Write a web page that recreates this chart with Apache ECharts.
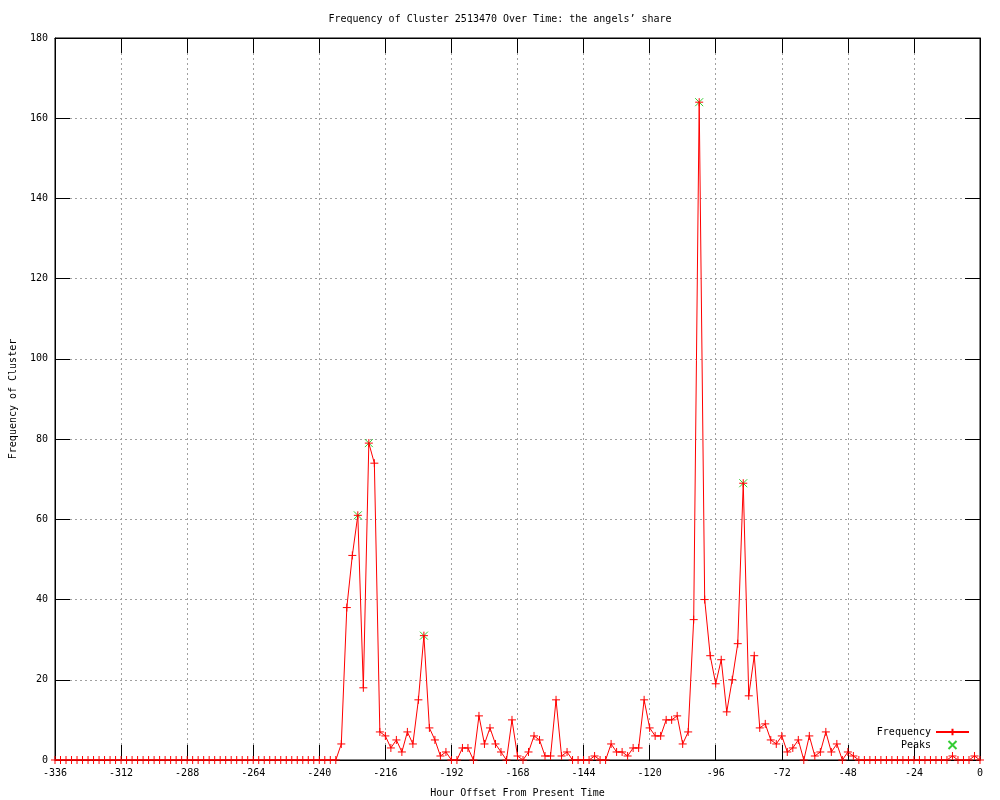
<!DOCTYPE html>
<html>
<head>
<meta charset="utf-8">
<script src="https://cdn.jsdelivr.net/npm/echarts@6/dist/echarts.min.js"></script>
<style>html,body{margin:0;padding:0;background:#fff;}#chart{width:1000px;height:800px;}</style>
</head>
<body>
<div id="chart"></div>
<script>
// Samples every 2 hours from -336 to 0
const startHour = -336;
const stepHours = 2;
const frequency = [
  0,0,0,0,0,0,0,0,0,0, 0,0,0,0,0,0,0,0,0,0,
  0,0,0,0,0,0,0,0,0,0, 0,0,0,0,0,0,0,0,0,0,
  0,0,0,0,0,0,0,0,0,0, 0,0,
  4,38,51,61,18,79,74,7,6,3,5,2,7,4,15,31,8,5,1,2,
  0,0,3,3,0,11,4,8,4,2,0,10,1,0,2,6,5,1,1,15,
  1,2,0,0,0,0,1,0,0,4,2,2,1,3,3,15,8,6,6,10,
  10,11,4,7,35,164,40,26,19,25,12,20,29,69,16,26,8,9,5,4,
  6,2,3,5,0,6,1,2,7,2,4,0,2,1,
  0,0,0,0,0,0,0,0,0,0,0,0,0,0,0,0,0,
  1,0,0,0,1,0
];
const peakHours = [-226, -222, -202, -102, -86];
const xTicks = { min: -336, max: 0, interval: 24 };
const yTicks = { min: 0, max: 180, interval: 20 };

const freqData = frequency.map((v, i) => [startHour + i * stepHours, v]);
const peakData = peakHours.map(h => [h, frequency[(h - startHour) / stepHours]]);

const mono = 'DejaVu Sans Mono';
const txt = { fontFamily: mono, fontSize: 10, color: '#000' };
const gridLine = { show: true, lineStyle: { color: '#a0a0a0', type: [2, 3], width: 1 } };
const tick = { show: true, inside: true, length: 15, lineStyle: { color: '#000', width: 1 } };

const chart = echarts.init(document.getElementById('chart'));
chart.setOption({
  animation: false,
  backgroundColor: '#fff',
  title: {
    text: 'Frequency of Cluster 2513470 Over Time: the angels\u2019 share',
    left: 'center', top: 9,
    textStyle: { fontFamily: mono, fontSize: 10, fontWeight: 'normal', color: '#000' }
  },
  grid: { left: 55, right: 20, top: 38, bottom: 40, show: true, borderColor: '#000', borderWidth: 1, backgroundColor: 'transparent', containLabel: false, outerBoundsMode: 'none' },
  legend: {
    orient: 'vertical', right: 30, top: 727, align: 'right', padding: 0,
    itemWidth: 33, itemHeight: 8, itemGap: 3,
    textStyle: txt,
    data: ['Frequency', 'Peaks']
  },
  xAxis: [{
    type: 'value', min: xTicks.min, max: xTicks.max, interval: xTicks.interval,
    name: 'Hour Offset From Present Time', nameLocation: 'middle', nameGap: 28,
    nameTextStyle: txt,
    axisLine: { show: true, onZero: false, lineStyle: { color: '#000' } },
    axisTick: tick, axisLabel: Object.assign({ margin: 8 }, txt),
    splitLine: gridLine
  }, {
    type: 'value', position: 'top', min: xTicks.min, max: xTicks.max, interval: xTicks.interval,
    axisLine: { show: true, onZero: false, lineStyle: { color: '#000' } },
    axisTick: tick, axisLabel: { show: false }, splitLine: { show: false }
  }],
  yAxis: [{
    type: 'value', min: yTicks.min, max: yTicks.max, interval: yTicks.interval,
    name: 'Frequency of Cluster', nameLocation: 'middle', nameGap: 37,
    nameTextStyle: txt,
    axisLine: { show: true, onZero: false, lineStyle: { color: '#000' } },
    axisTick: tick, axisLabel: Object.assign({ margin: 7 }, txt),
    splitLine: gridLine
  }, {
    type: 'value', position: 'right', min: yTicks.min, max: yTicks.max, interval: yTicks.interval,
    axisLine: { show: true, onZero: false, lineStyle: { color: '#000' } },
    axisTick: tick, axisLabel: { show: false }, splitLine: { show: false }
  }],
  series: [{
    name: 'Frequency', type: 'line', data: freqData,
    xAxisIndex: 0, yAxisIndex: 0,
    showAllSymbol: true,
    symbol: 'path://M0,5L10,5M5,0L5,10', symbolSize: 8,
    lineStyle: { color: '#ff0000', width: 1 },
    itemStyle: { color: '#ff0000', borderColor: '#ff0000', borderWidth: 1 },
    clip: false
  }, {
    name: 'Peaks', type: 'scatter', data: peakData,
    xAxisIndex: 0, yAxisIndex: 0,
    symbol: 'path://M0,0L10,10M10,0L0,10', symbolSize: 8,
    itemStyle: { color: '#00c000', borderColor: '#00c000', borderWidth: 1 }
  }]
});
</script>
</body>
</html>
